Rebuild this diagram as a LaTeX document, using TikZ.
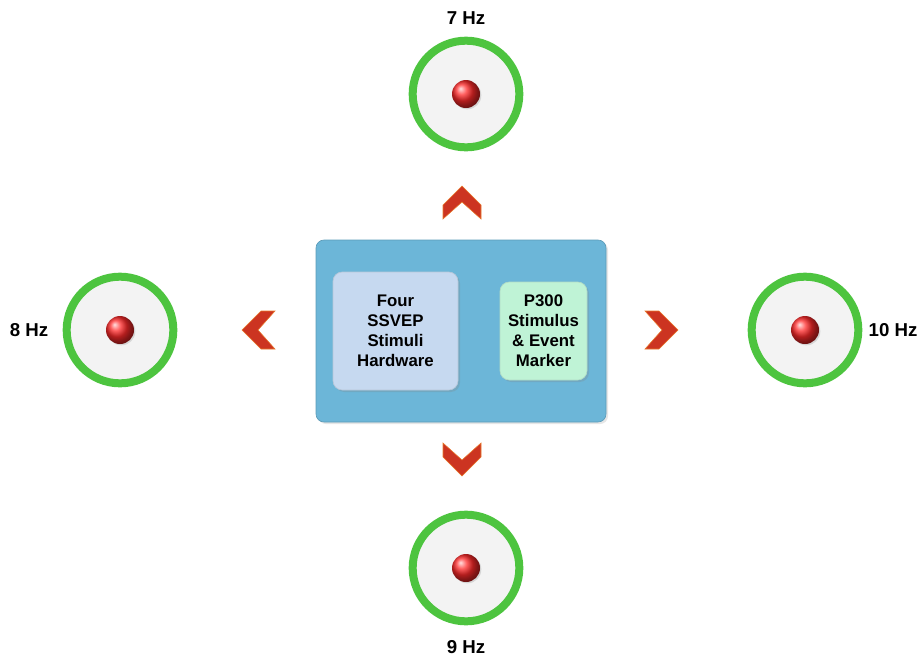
\documentclass[tikz,border=0pt]{standalone}
\usepackage{fontspec}
\setmainfont{Liberation Sans}
\usetikzlibrary{shadows}
\definecolor{ringgreen}{HTML}{4DC43F}
\definecolor{disc}{HTML}{F3F3F3}
\definecolor{outerblue}{HTML}{6CB6D8}
\definecolor{innerblue}{HTML}{C6D9F0}
\definecolor{innergreen}{HTML}{BFF3D6}
\definecolor{chevred}{HTML}{CC3421}
\definecolor{chevedge}{HTML}{E8782A}
\definecolor{ballred}{HTML}{FF2A2A}
\tikzset{
  stim/.style={circle, draw=ringgreen, line width=6pt, fill=disc, minimum size=80pt, inner sep=0pt},
  dot/.style={circle, ball color=ballred, minimum size=21pt, inner sep=0pt, drop shadow={opacity=0.25, shadow xshift=1pt, shadow yshift=-1pt}},
  hz/.style={font=\bfseries\fontsize{14}{16}\selectfont, text=black},
  boxtxt/.style={font=\bfseries\fontsize{12.6}{15}\selectfont, align=center, text=black},
  chev/.style={fill=chevred, draw=chevedge, line width=0.4pt, line join=miter},
  outer/.style={rounded corners=6pt, fill=outerblue, draw=outerblue!85!black, line width=0.5pt, drop shadow={opacity=0.2, shadow xshift=1.5pt, shadow yshift=-1.5pt}},
  innerA/.style={rounded corners=7pt, fill=innerblue, draw=innerblue!80!gray, line width=0.5pt, drop shadow={opacity=0.25, shadow xshift=1.5pt, shadow yshift=-1.5pt}},
  innerB/.style={rounded corners=7pt, fill=innergreen, draw=innergreen!80!gray, line width=0.5pt, drop shadow={opacity=0.25, shadow xshift=1.5pt, shadow yshift=-1.5pt}}
}
\begin{document}
\begin{tikzpicture}[x=0.75pt, y=-0.75pt]
\useasboundingbox (0,0) rectangle (921,661);
% central box
\path[outer] (316,240) rectangle (606,422);
\path[innerA] (333,272) rectangle (458,390);
\path[innerB] (500,282) rectangle (587,380);
\node[boxtxt] (hw) at (395.5,331) {Four\\SSVEP\\Stimuli\\Hardware};
\node[boxtxt] (p3) at (543.5,331) {P300\\Stimulus\\\& Event\\Marker};
% stimuli circles
\node[stim] (top) at (466,94) {};
\node[stim] (left) at (120,330) {};
\node[stim] (right) at (805,330) {};
\node[stim] (bot) at (466,568) {};
\node[dot] (dtop) at (top.center) {};
\node[dot] (dleft) at (left.center) {};
\node[dot] (dright) at (right.center) {};
\node[dot] (dbot) at (bot.center) {};
% labels
\node[hz] (l7) at (466,18) {7 Hz};
\node[hz] (l8) at (29,330) {8 Hz};
\node[hz] (l10) at (893,330) {10 Hz};
\node[hz] (l9) at (466,647) {9 Hz};
% chevrons
\path[chev] (443,219) -- (443,205) -- (462,186) -- (481,205) -- (481,219) -- (462,202) -- cycle;
\path[chev] (443,443) -- (443,457) -- (462,476) -- (481,457) -- (481,443) -- (462,460) -- cycle;
\path[chev] (275,311) -- (261,311) -- (242,330) -- (261,349) -- (275,349) -- (258,330) -- cycle;
\path[chev] (645,311) -- (659,311) -- (678,330) -- (659,349) -- (645,349) -- (662,330) -- cycle;
\end{tikzpicture}
\end{document}
